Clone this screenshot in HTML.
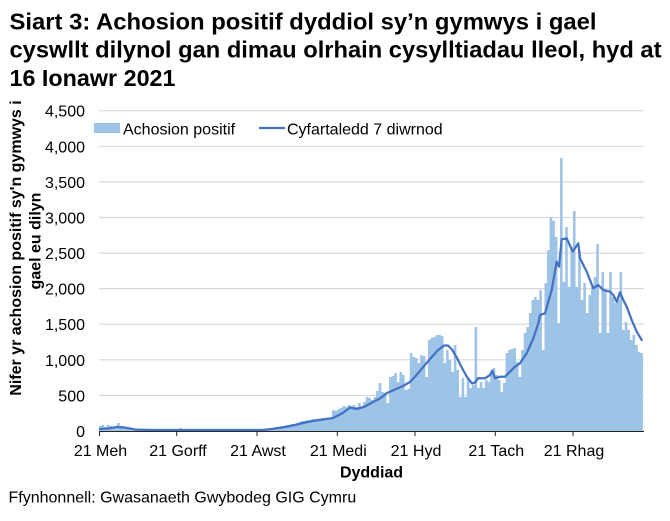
<!DOCTYPE html>
<html><head><meta charset="utf-8"><style>
html,body{margin:0;padding:0;background:#fff;}
svg{display:block;}
text{font-family:"Liberation Sans",Arial,sans-serif;fill:#000;}
</style></head><body>
<svg width="670" height="521" viewBox="0 0 670 521" xmlns="http://www.w3.org/2000/svg">
<rect width="670" height="521" fill="#fff"/>
<!-- Title -->
<text x="9.5" y="29.5" font-size="23.5" font-weight="bold" textLength="587" lengthAdjust="spacingAndGlyphs">Siart 3: Achosion positif dyddiol sy’n gymwys i gael</text>
<text x="9.5" y="57.5" font-size="23.5" font-weight="bold" textLength="652" lengthAdjust="spacingAndGlyphs">cyswllt dilynol gan dimau olrhain cysylltiadau lleol, hyd at</text>
<text x="9.5" y="86" font-size="23.5" font-weight="bold" textLength="166" lengthAdjust="spacingAndGlyphs">16 Ionawr 2021</text>

<!-- gridlines -->
<g stroke="#d9d9d9" stroke-width="1.2">
<line x1="99" x2="644" y1="110.7" y2="110.7"/>
<line x1="99" x2="644" y1="146.3" y2="146.3"/>
<line x1="99" x2="644" y1="181.9" y2="181.9"/>
<line x1="99" x2="644" y1="217.5" y2="217.5"/>
<line x1="99" x2="644" y1="253.1" y2="253.1"/>
<line x1="99" x2="644" y1="288.6" y2="288.6"/>
<line x1="99" x2="644" y1="324.2" y2="324.2"/>
<line x1="99" x2="644" y1="359.8" y2="359.8"/>
<line x1="99" x2="644" y1="395.4" y2="395.4"/>
</g>

<!-- y tick labels -->
<g font-size="16" text-anchor="end">
<text x="85" y="116.7">4,500</text>
<text x="85" y="152.3">4,000</text>
<text x="85" y="187.9">3,500</text>
<text x="85" y="223.5">3,000</text>
<text x="85" y="259.1">2,500</text>
<text x="85" y="294.6">2,000</text>
<text x="85" y="330.2">1,500</text>
<text x="85" y="365.8">1,000</text>
<text x="85" y="401.4">500</text>
<text x="85" y="437">0</text>
</g>

<!-- bars -->
<g transform="translate(99,0) scale(2.59,1)">
<path fill="#9dc3e6" d="M0 431V426H1V425H2V427H3V425H4V426H5V427H6V426H7V423H8V426H9V427H10V428H12V429H15V430H31V428H32V430H60V429.5H62V429H64V428.5H66V428H68V427H70V426H72V425H74V424H76V423H77V422H78V421H80V420H82V419H84V418.5H86V418H87V418.5H88V417.5H90V410H91V411H92V409H93V408H94V406H95V407H96V405H97V406H98V405H99V407H100V403H101V408H102V402H103V397H104V398H105V400H106V397H107V391H108V383H109V392H110V393H111V403H112V377H113V376H114V373H115V382H116V372H117V375H118V390H119V389H120V353H121V357H122V358H123V363H124V355H125V356H126V377H127V340H128V338H129V337H130V335H132V336H133V363H134V350H135V360H136V372H137V345H138V370H139V397H140V378H141V397H142V378H143V388H144V385H145V327H146V388H147V382H148V388H149V380H150V382H151V372H152V368H153V375H154V380H155V392H156V383H157V353H158V350H159V349H160V348H161V362H162V377H163V350H164V333H165V327H166V313H167V300H168V297H169V300H170V290H171V350H172V283H173V250H174V217H175V221H176V237H177V323H178V158H179V282H180V227H181V287H182V247H183V211H184V287H185V250H186V300H187V283H188V313H189V295H190V287H191V277H192V244H193V333H194V272H195V290H196V333H197V272H198V297H199V303H200V300H201V272H202V330H203V322H204V330H205V340H206V335H207V345H208V352H209V353H210V431Z"/>
</g>

<!-- 7 day average line -->
<polyline fill="none" stroke="#4472c4" stroke-width="2.25" stroke-linejoin="round" stroke-linecap="round" points="100,429 108,428.5 117,427 125,427.5 135,429.5 150,430 262,430 272,429 285,427 295,425 305,422.5 313,421 323,419.5 333,418 342,413.5 350,407.5 357,409 365,406.5 373,402 380,398.5 387,393 395,389.5 403,386 410,382 417,374.5 424,366 431,358 438,350 444,345.5 448,345.5 452,349.5 457,358 462,368 467,377 472,383.5 475,382.5 478,378.3 485,378.3 490,375 492.3,370.7 495,378.3 500,376.7 505,376.7 510,371.7 515,366.7 520,363.3 526.7,353.3 533.3,338.3 538.3,323.3 540,315 545,313.3 551.7,290 556.7,261.7 559,266.7 561.7,239.3 566.7,238.3 572.7,251.7 578.3,243.3 580,258.3 586.7,271.7 593.3,288.3 598.3,285 603.3,290 610,291.7 613.3,295 616.7,301.7 620,292.3 623.3,300 626.7,306.7 631.7,320 636.7,331.7 641.7,340"/>

<!-- x axis -->
<g stroke="#262626" stroke-width="1">
<line x1="99" x2="644" y1="431.5" y2="431.5"/>
<line x1="99.5" x2="99.5" y1="431" y2="436"/>
<line x1="176.7" x2="176.7" y1="431" y2="436"/>
<line x1="257" x2="257" y1="431" y2="436"/>
<line x1="337.3" x2="337.3" y1="431" y2="436"/>
<line x1="415" x2="415" y1="431" y2="436"/>
<line x1="495.3" x2="495.3" y1="431" y2="436"/>
<line x1="573" x2="573" y1="431" y2="436"/>
</g>
<g font-size="16" text-anchor="middle">
<text x="100.5" y="456">21 Meh</text>
<text x="178" y="456">21 Gorff</text>
<text x="258" y="456">21 Awst</text>
<text x="338.3" y="456">21 Medi</text>
<text x="416" y="456">21 Hyd</text>
<text x="496.3" y="456">21 Tach</text>
<text x="574" y="456">21 Rhag</text>
</g>
<text x="371.5" y="477.5" font-size="16" font-weight="bold" text-anchor="middle">Dyddiad</text>

<!-- y axis title -->
<text transform="translate(21,248) rotate(-90)" font-size="16" font-weight="bold" text-anchor="middle">Nifer yr achosion positif sy'n gymwys i</text>
<text transform="translate(40.5,241) rotate(-90)" font-size="16" font-weight="bold" text-anchor="middle">gael eu dilyn</text>

<!-- legend -->
<rect x="94" y="123" width="26" height="10" fill="#9dc3e6"/>
<text x="123" y="134.7" font-size="16">Achosion positif</text>
<line x1="259" x2="285" y1="128" y2="128" stroke="#4472c4" stroke-width="2.25"/>
<text x="287" y="134.7" font-size="16">Cyfartaledd 7 diwrnod</text>

<!-- source -->
<text x="8.5" y="502.7" font-size="16">Ffynhonnell: Gwasanaeth Gwybodeg GIG Cymru</text>
</svg>
</body></html>
